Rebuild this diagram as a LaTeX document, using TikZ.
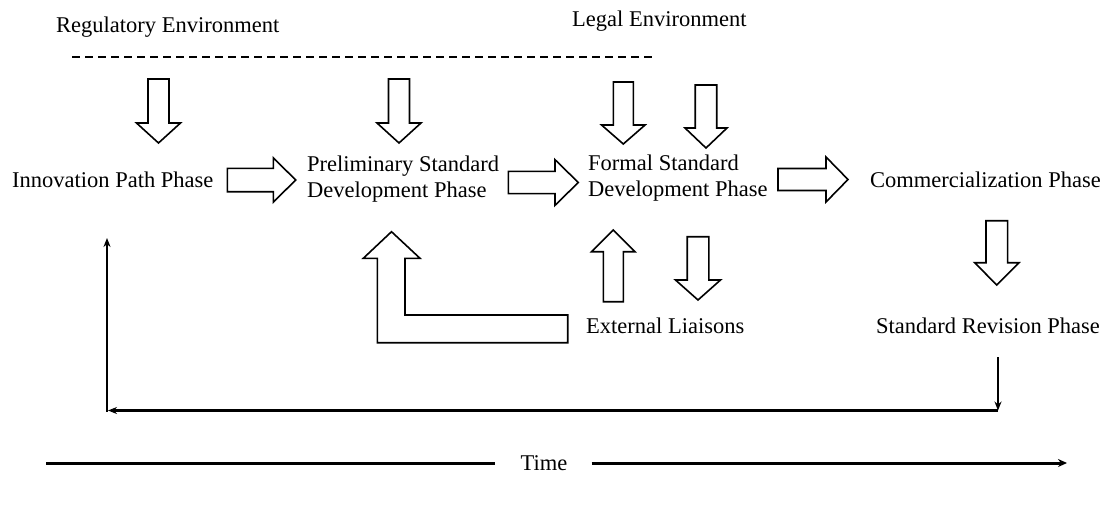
\documentclass[tikz,border=0pt]{standalone}
\usepackage{fontspec}
\setmainfont{Liberation Serif}
\usetikzlibrary{arrows.meta}

% Hollow block arrow: tail centre (#1,#2), direction #3 (degrees),
% total length #4, head length #5, shaft width #6, head width #7
\newcommand\blockarrow[7]{%
  \draw[blk, shift={(#1,#2)}, rotate=#3]
    (0,-#6/2) -- ({#4-#5},-#6/2) -- ({#4-#5},-#7/2) -- (#4,0)
    -- ({#4-#5},#7/2) -- ({#4-#5},#6/2) -- (0,#6/2) -- cycle;}

\begin{document}
\begin{tikzpicture}[x=1pt, y=-1pt,
  lbl/.style={inner sep=0pt, anchor=base west, align=left,
              font=\fontsize{22.5}{25.6}\selectfont},
  blk/.style={draw=black, line width=1.6pt, fill=white, line join=miter},
  envline/.style={line width=1.5pt, dash pattern=on 8pt off 5pt},
  flow/.style={line width=2.4pt, -{Stealth[length=9pt,width=7pt]}},
  timeline/.style={line width=3pt},
]
\useasboundingbox (0,0) rectangle (1104,504);

% environments
\node[lbl] (reg)   at (56,32)  {Regulatory Environment};
\node[lbl] (legal) at (572,26) {Legal Environment};
\coordinate (envL) at (72,57);
\coordinate (envR) at (655,57);
\draw[envline] (envL) -- (envR);

% phases (two-line labels are placed by their last baseline)
\node[lbl] (inn)    at (12,187)    {Innovation Path Phase};
\node[lbl] (pre)    at (307,197.5) {Preliminary Standard\\Development Phase};
\node[lbl] (formal) at (588,196.5) {Formal Standard\\Development Phase};
\node[lbl] (comm)   at (870,187)   {Commercialization Phase};
\node[lbl] (ext)    at (586,333)   {External Liaisons};
\node[lbl] (rev)    at (876,333)   {Standard Revision Phase};

% influences from the environments
\blockarrow{158.5}{79}{-90}{64}{20}{21}{44}
\blockarrow{399}{79}{-90}{64}{20}{21}{44}
\blockarrow{623.3}{82}{-90}{62}{19}{20}{43.5}
\blockarrow{706}{85}{-90}{63}{20}{21.5}{42}

% progression between phases
\blockarrow{227.3}{180}{0}{68.4}{22.4}{23.4}{44.4}
\blockarrow{508.3}{182.5}{0}{70}{23.3}{22.3}{45.7}
\blockarrow{778}{179.5}{0}{70}{22}{22}{45}
\blockarrow{996.8}{220.7}{-90}{64.3}{22.3}{21.7}{44.3}

% exchanges with external liaisons
\blockarrow{613.3}{301.7}{90}{71.7}{21.7}{20}{43.3}
\blockarrow{698}{236.7}{-90}{63.3}{20}{21.6}{45}
\draw[blk] (377.3,342.7) -- (377.3,258.3) -- (363.3,258.3) -- (391.5,231.7)
  -- (420,258.3) -- (405,258.3) -- (405,315) -- (567.7,315)
  -- (567.7,342.7) -- cycle;

% revision feedback loop
\coordinate (r0) at (998,357);
\coordinate (r1) at (998,410.5);
\coordinate (r2) at (108,410.5);
\coordinate (r3) at (107,238);
\draw[flow] (r0) -- (r1);
\draw[flow] (r1) -- (r2);
\draw[flow] (107,411.7) -- (r3);

% time axis
\node[inner sep=0pt, font=\fontsize{22.5}{25.6}\selectfont] (time) at (544,463) {Time};
\coordinate (t0) at (46,463);
\coordinate (t1) at (1067,463);
\draw[timeline] (t0) -- ([xshift=-25pt]time.west);
\draw[timeline, -{Stealth[length=9pt,width=8pt]}] ([xshift=24pt]time.east) -- (t1);
\end{tikzpicture}
\end{document}
